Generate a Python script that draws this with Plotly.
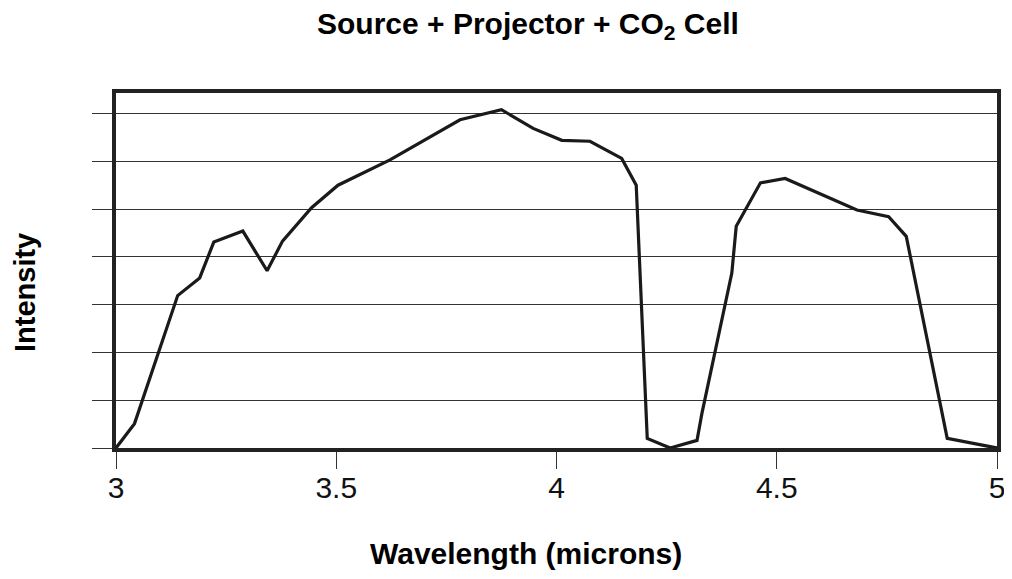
import plotly.graph_objects as go

# Data
wavelength = [3.0, 3.042, 3.140, 3.190, 3.222, 3.288, 3.343, 3.378, 3.444, 3.504,
              3.622, 3.781, 3.875, 3.947, 4.012, 4.076, 4.148, 4.181, 4.206, 4.258,
              4.319, 4.330, 4.398, 4.408, 4.463, 4.519, 4.682, 4.754, 4.794, 4.887,
              5.0]
intensity = [0.0, 0.51, 3.19, 3.56, 4.31, 4.54, 3.71, 4.33, 5.03, 5.50,
             6.03, 6.87, 7.08, 6.69, 6.44, 6.42, 6.06, 5.50, 0.20, 0.0,
             0.16, 0.72, 3.66, 4.64, 5.55, 5.64, 4.98, 4.84, 4.43, 0.20,
             0.0]
x_ticks = [3, 3.5, 4, 4.5, 5]
x_tick_labels = ["3", "3.5", "4", "4.5", "5"]
y_grid = [0, 1, 2, 3, 4, 5, 6, 7]

title_text = "Source + Projector + CO<sub>2</sub> Cell"
x_title = "Wavelength (microns)"
y_title = "Intensity"

FONT = "Liberation Sans, Arial, sans-serif"

# The page body has an 8px margin, so the figure is offset by 8px.
BODY = 8
W, H = 1012 - BODY, 579 - 2 * BODY
L, R, T, B = 108, 15, 85, 123
plot_h = H - T - B
plot_w = W - L - R


def page_y(py):
    return (H - B - (py - BODY)) / plot_h


def page_x(px):
    return ((px - BODY) - L) / plot_w


fig = go.Figure()
fig.add_trace(go.Scatter(
    x=wavelength, y=intensity, mode="lines",
    line=dict(color="#1a1a1a", width=3.2),
    showlegend=False, hoverinfo="skip",
))

fig.update_layout(
    width=W, height=H,
    margin=dict(l=L, r=R, t=T, b=B, autoexpand=False),
    paper_bgcolor="white", plot_bgcolor="white",
    font=dict(family=FONT, color="black"),
    xaxis=dict(
        range=[3, 5], tickvals=x_ticks, ticktext=x_tick_labels,
        ticks="outside", ticklen=17, tickwidth=1, tickcolor="#333",
        tickfont=dict(size=30, family=FONT, color="#111"),
        ticklabelstandoff=-7, ticklabeloverflow="allow",
        showgrid=False, zeroline=False, automargin=False,
        showline=True, linewidth=4, linecolor="#222", mirror=True,
    ),
    yaxis=dict(
        range=[0, 7.43], tickvals=y_grid, showticklabels=False,
        ticks="outside", ticklen=20, tickwidth=1, tickcolor="#333",
        showgrid=True, gridcolor="#333", gridwidth=1,
        zeroline=False, automargin=False,
        showline=True, linewidth=4, linecolor="#222", mirror=True,
    ),
    annotations=[
        dict(text="<b>" + title_text + "</b>", xref="paper", yref="paper",
             x=page_x(528), y=page_y(25), xanchor="center", yanchor="middle",
             showarrow=False, font=dict(size=30, family=FONT, color="black")),
        dict(text="<b>" + x_title + "</b>", xref="paper", yref="paper",
             x=page_x(526), y=page_y(553), xanchor="center", yanchor="middle",
             showarrow=False, font=dict(size=30, family=FONT, color="black")),
        dict(text="<b>" + y_title + "</b>", xref="paper", yref="paper",
             x=page_x(25), y=page_y(293), xanchor="center", yanchor="middle",
             textangle=-90, showarrow=False, font=dict(size=29, family=FONT, color="black")),
    ],
)

fig.write_html("out.html")
